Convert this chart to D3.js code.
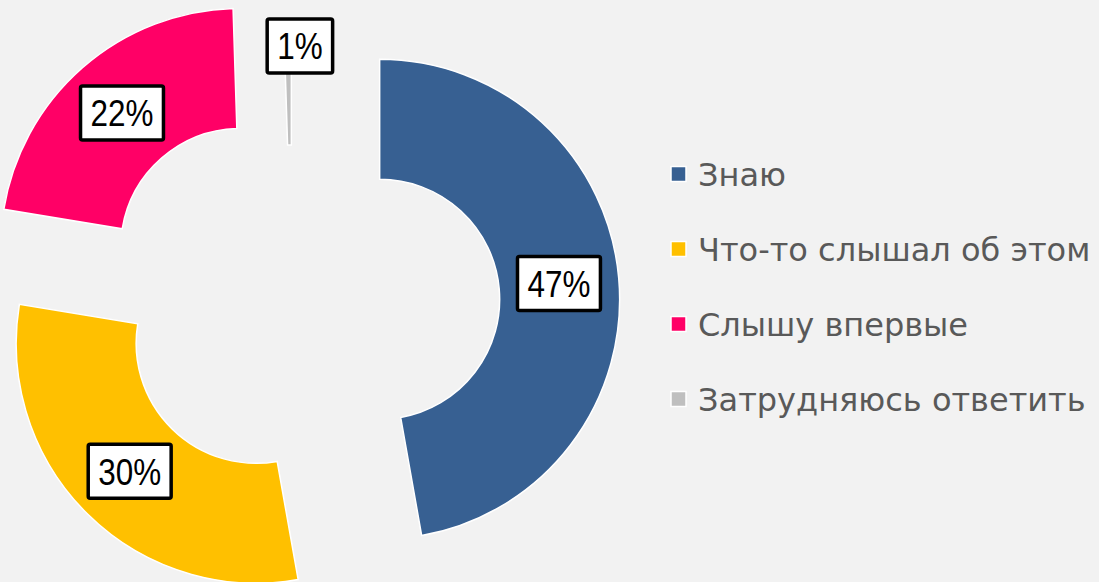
<!DOCTYPE html>
<html>
<head>
<meta charset="utf-8">
<script src="https://cdn.jsdelivr.net/npm/d3@7"></script>
<style>
  html, body { margin: 0; padding: 0; background: #f2f2f2; }
  svg { display: block; }
</style>
</head>
<body>
<script>
// Chart data
var categories = ["Знаю", "Что-то слышал об этом", "Слышу впервые", "Затрудняюсь ответить"];
var values = [47.2, 30.4, 21.9, 0.5];
var labels = ["47%", "30%", "22%", "1%"];
var colors = ["#376092", "#ffc000", "#ff0066", "#bfbfbf"];

// how far each slice is pulled out of the ring
var explode = [88, 51, 78, 42];

var width = 1099, height = 582;
var cx = 292, cy = 307;
var innerR = 120, outerR = 240;

var svg = d3.select("body").append("svg")
    .attr("width", width)
    .attr("height", height);

svg.append("rect")
    .attr("width", width)
    .attr("height", height)
    .attr("fill", "#f2f2f2");

var pie = d3.pie().sort(null).value(d => d);
var arcs = pie(values);

var arc = d3.arc().innerRadius(innerR).outerRadius(outerR);

// offset of a slice along its mid angle
function shift(d, i) {
    var mid = (d.startAngle + d.endAngle) / 2;
    return [Math.sin(mid) * explode[i], -Math.cos(mid) * explode[i]];
}

var slices = svg.append("g")
    .attr("transform", "translate(" + cx + "," + cy + ")");

slices.selectAll("path")
    .data(arcs)
    .enter()
    .append("path")
    .attr("d", arc)
    .attr("transform", function (d, i) {
        var s = shift(d, i);
        return "translate(" + s[0] + "," + s[1] + ")";
    })
    .attr("fill", (d, i) => colors[i])
    .attr("stroke", "white")
    .attr("stroke-width", 1.5);

// data labels - boxed, at the ring centroid (near outer edge, a bit to the right, for tiny slices)
var labelG = slices.selectAll("g.lbl")
    .data(arcs)
    .enter()
    .append("g")
    .attr("class", "lbl")
    .attr("transform", function (d, i) {
        var s = shift(d, i);
        var mid = (d.startAngle + d.endAngle) / 2;
        var tiny = (d.endAngle - d.startAngle) < 0.1;
        var r = tiny ? outerR - 21 : (innerR + outerR) / 2;
        var x = s[0] + Math.sin(mid) * r + (tiny ? 12 : 0);
        return "translate(" + x + "," + (s[1] - Math.cos(mid) * r) + ")";
    });

labelG.append("rect")
    .attr("fill", "white")
    .attr("stroke", "black")
    .attr("stroke-width", 3.5)
    .attr("rx", 2);

labelG.append("text")
    .attr("text-anchor", "middle")
    .attr("dy", "0.36em")
    .attr("transform", "scale(0.85,1)")
    .attr("font-family", "'Liberation Sans', sans-serif")
    .attr("font-size", "37px")
    .attr("fill", "black")
    .text((d, i) => labels[i]);

labelG.each(function () {
    var g = d3.select(this);
    var bb = g.select("text").node().getBBox();
    var w = bb.width * 0.85;
    g.select("rect")
        .attr("x", -w / 2 - 10)
        .attr("y", -27)
        .attr("width", w + 20)
        .attr("height", 54);
});

// Legend
var legend = svg.append("g")
    .attr("transform", "translate(671,174)");

var items = legend.selectAll("g")
    .data(categories)
    .enter()
    .append("g")
    .attr("transform", (d, i) => "translate(0," + (i * 75) + ")");

items.append("rect")
    .attr("x", 0)
    .attr("y", -7.5)
    .attr("width", 15)
    .attr("height", 15)
    .attr("fill", (d, i) => colors[i])
    .attr("stroke", "white")
    .attr("stroke-width", 1.5);

items.append("text")
    .attr("x", 27)
    .attr("dy", "0.36em")
    .attr("font-family", "'DejaVu Sans', sans-serif")
    .attr("font-size", "32px")
    .attr("fill", "#595959")
    .text(d => d);
</script>
</body>
</html>
